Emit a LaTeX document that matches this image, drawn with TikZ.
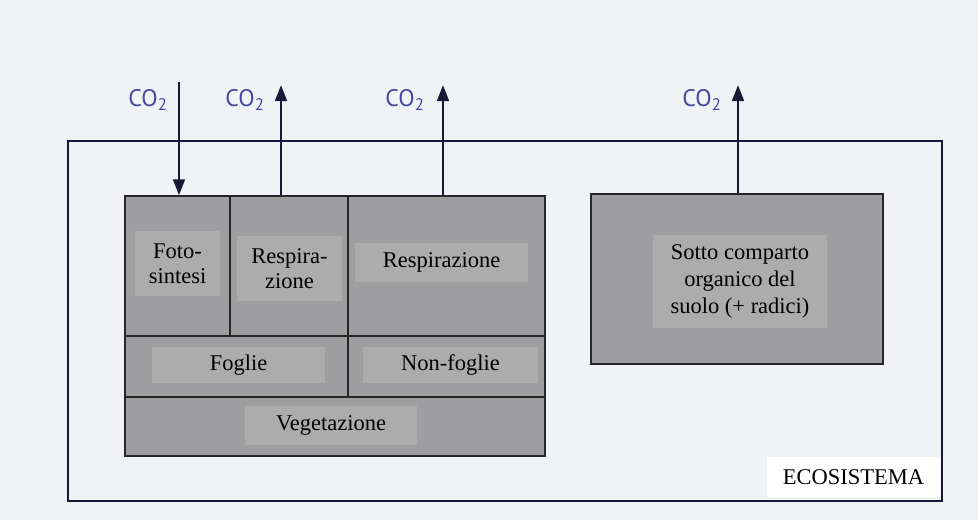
\documentclass[tikz,border=0pt]{standalone}
\usepackage{fontspec}
\setmainfont{Liberation Serif}
\newfontfamily\cofont{PT Sans}
\usepackage{xcolor}
\usetikzlibrary{arrows.meta, positioning}

\definecolor{paper}{RGB}{240,242,246}
\definecolor{blockgray}{RGB}{158,158,160}
\definecolor{labelgray}{RGB}{172,172,172}
\definecolor{cotext}{RGB}{72,72,160}
\definecolor{ink}{RGB}{25,25,55}

\begin{document}
\begin{tikzpicture}[x=0.025cm, y=-0.025cm,
  cell/.style={draw=black!85, line width=0.9pt, fill=blockgray, inner sep=0pt},
  lab/.style={fill=labelgray, inner sep=0pt, align=center, font=\fontsize{16}{18}\selectfont},
  flux/.style={ink, line width=2pt, -{Triangle[length=0.4cm, width=0.29cm]}},
  co/.style={text=cotext, font=\cofont\fontsize{17}{19}\selectfont}]
\path[fill=paper] (0,0) rectangle (978,520);
\node[draw=ink, line width=1.3pt, minimum width=21.85cm, minimum height=9cm, inner sep=0pt] (eco) at (505,321) {};
\node[fill=white, inner sep=0pt, minimum width=4.325cm, minimum height=1cm, font=\fontsize{16}{18}\selectfont] (ecolab) at (853.5,477) {ECOSISTEMA};
% vegetazione
\node[cell, minimum width=2.625cm, minimum height=3.5cm] (foto) at (177.5,266) {};
\node[cell, minimum width=2.95cm, minimum height=3.5cm] (resp1) at (289,266) {};
\node[cell, minimum width=4.925cm, minimum height=3.5cm] (resp2) at (446.5,266) {};
\node[cell, minimum width=5.575cm, minimum height=1.525cm] (foglie) at (236.5,366.5) {};
\node[cell, minimum width=4.925cm, minimum height=1.525cm] (nonfoglie) at (446.5,366.5) {};
\node[cell, minimum width=10.5cm, minimum height=1.475cm] (veg) at (335,426.5) {};
\node[lab, minimum width=2.125cm, minimum height=1.625cm] (fotolab) at (177.5,263.5) {Foto-\\sintesi};
\node[lab, minimum width=2.625cm, minimum height=1.625cm] (resp1lab) at (289.5,268.5) {Respira-\\zione};
\node[lab, minimum width=4.325cm, minimum height=0.975cm] (resp2lab) at (441.5,262.5) {Respirazione};
\node[lab, minimum width=4.325cm, minimum height=0.9cm] (fogliolab) at (238.5,365) {Foglie};
\node[lab, minimum width=4.375cm, minimum height=0.9cm] (nonfoglielab) at (450.5,365) {Non-foglie};
\node[lab, minimum width=4.3cm, minimum height=0.975cm] (veglab) at (331,425.5) {Vegetazione};
% suolo
\node[cell, minimum width=7.3cm, minimum height=4.25cm] (suolo) at (737,279) {};
\node[lab, minimum width=4.35cm, minimum height=2.325cm, font=\fontsize{16}{19}\selectfont] (suololab) at (740,281.5) {Sotto comparto\\organico del\\suolo (+ radici)};
% flussi
\coordinate (in1) at (179,82);
\coordinate (out1) at (281,85);
\coordinate (out2) at (443,85);
\coordinate (out3) at (738,85);
\draw[flux] (in1) -- (in1 |- foto.north);
\draw[flux] (out1 |- resp1.north) -- (out1);
\draw[flux] (out2 |- resp2.north) -- (out2);
\draw[flux] (out3 |- suolo.north) -- (out3);
\node[co] (co1) at (148,100) {CO\textsubscript{2}};
\node[co] (co2) at (245,100) {CO\textsubscript{2}};
\node[co] (co3) at (405,100) {CO\textsubscript{2}};
\node[co] (co4) at (702,100) {CO\textsubscript{2}};
\end{tikzpicture}
\end{document}
